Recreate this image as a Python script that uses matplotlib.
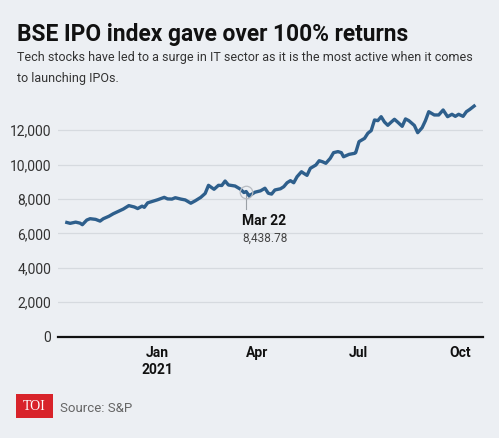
import matplotlib
matplotlib.use("Agg")
import matplotlib.pyplot as plt
import pandas as pd
from matplotlib.patches import Rectangle

# BSE IPO index
dates = [
    "2020-10-11", "2020-10-14", "2020-10-19", "2020-10-23", "2020-10-25", "2020-10-29",
    "2020-11-01", "2020-11-06", "2020-11-10", "2020-11-13", "2020-11-18", "2020-11-22",
    "2020-11-27", "2020-12-01", "2020-12-06", "2020-12-11", "2020-12-14", "2020-12-18",
    "2020-12-20", "2020-12-23", "2020-12-29", "2021-01-01", "2021-01-07", "2021-01-10",
    "2021-01-14", "2021-01-17", "2021-01-22", "2021-01-26", "2021-01-31", "2021-02-04",
    "2021-02-09", "2021-02-13", "2021-02-16", "2021-02-21", "2021-02-25", "2021-02-28",
    "2021-03-03", "2021-03-06", "2021-03-12", "2021-03-17", "2021-03-20", "2021-03-22",
    "2021-03-25", "2021-03-26", "2021-03-30", "2021-04-04", "2021-04-08", "2021-04-11",
    "2021-04-14", "2021-04-17", "2021-04-22", "2021-04-25", "2021-04-28", "2021-05-01",
    "2021-05-04", "2021-05-07", "2021-05-11", "2021-05-13", "2021-05-16", "2021-05-19",
    "2021-05-24", "2021-05-27", "2021-05-30", "2021-06-02", "2021-06-06", "2021-06-09",
    "2021-06-13", "2021-06-16", "2021-06-18", "2021-06-23", "2021-06-28", "2021-06-29",
    "2021-07-02", "2021-07-07", "2021-07-10", "2021-07-13", "2021-07-16", "2021-07-19",
    "2021-07-22", "2021-07-25", "2021-07-28", "2021-07-31", "2021-08-03", "2021-08-06",
    "2021-08-10", "2021-08-13", "2021-08-16", "2021-08-21", "2021-08-24", "2021-08-28",
    "2021-08-31", "2021-09-03", "2021-09-08", "2021-09-12", "2021-09-16", "2021-09-20",
    "2021-09-24", "2021-09-27", "2021-09-30", "2021-10-04", "2021-10-07", "2021-10-10",
    "2021-10-14",
]
values = [
    6640, 6590, 6660, 6600, 6510, 6780,
    6860, 6820, 6720, 6860, 7000, 7150,
    7300, 7420, 7620, 7540, 7450, 7590,
    7520, 7780, 7900, 7960, 8100, 8010,
    8000, 8080, 8000, 7950, 7760, 7900,
    8100, 8330, 8800, 8570, 8800, 8790,
    9050, 8820, 8760, 8570, 8380, 8438.78,
    8160, 8240, 8400, 8480, 8630, 8340,
    8290, 8530, 8600, 8720, 8950, 9070,
    8950, 9300, 9590, 9500, 9380, 9790,
    9980, 10230, 10170, 10080, 10370, 10700,
    10760, 10700, 10460, 10600, 10660, 10700,
    11340, 11530, 11830, 11980, 12600, 12560,
    12790, 12480, 12290, 12470, 12640, 12470,
    12230, 12660, 12560, 12280, 11860, 12150,
    12560, 13080, 12890, 12890, 13180, 12790,
    12930, 12810, 12930, 12810, 13080, 13210,
    13410,
]
y_ticks = [0, 2000, 4000, 6000, 8000, 10000, 12000]
x_ticks = ["2021-01-01", "2021-04-01", "2021-07-01", "2021-10-01"]
x_labels = ["Jan\n2021", "Apr", "Jul", "Oct"]
note_date = "2021-03-22"
note_value = 8438.78

BG = "#eceff3"
LINE = "#2e5f8c"
FONT = ["Roboto", "DejaVu Sans"]

dts = pd.to_datetime(dates)

fig = plt.figure(figsize=(4.99, 4.38), dpi=100, facecolor=BG)
ax = fig.add_axes([0.1162, 0.2313, 0.8517, 0.5498], facecolor=BG)

ax.plot(dts, values, color=LINE, lw=2.4, solid_joinstyle="round", zorder=3)

ax.set_ylim(0, 14000)
ax.set_xlim(pd.Timestamp("2020-10-03"), pd.Timestamp("2021-10-22"))
ax.set_yticks(y_ticks)
ax.set_yticklabels([f"{v:,}" for v in y_ticks], family=FONT, fontsize=10, color="#333333")
ax.set_xticks(pd.to_datetime(x_ticks))
ax.set_xticklabels(x_labels, family=FONT, fontsize=10, fontweight="bold", color="#111111")
ax.tick_params(axis="both", length=0)
ax.tick_params(axis="y", pad=5)
ax.tick_params(axis="x", pad=7)
ax.grid(axis="y", color="#d6dadf", lw=0.9)
ax.set_axisbelow(True)
for s in ["top", "right", "left"]:
    ax.spines[s].set_visible(False)
ax.spines["bottom"].set_color("#111111")
ax.spines["bottom"].set_linewidth(1.6)

# Mar 22 callout
nd = pd.Timestamp(note_date)
ax.plot([nd], [note_value], marker="o", ms=9, mfc="none", mec="#b8bcc2", mew=0.9, zorder=4)
ax.plot([nd, nd], [note_value - 230, 7450], color="#9aa0a6", lw=0.8, zorder=2)
ax.annotate("Mar 22", (nd, 7450), xytext=(-3, -4), textcoords="offset points",
            ha="left", va="top", family=FONT, fontsize=10, fontweight="bold", color="#111111")
ax.annotate(f"{note_value:,.2f}", (nd, 7450), xytext=(-3, -17), textcoords="offset points",
            ha="left", va="top", family=FONT, fontsize=8.5, color="#444444")

fig.text(0.034, 0.907, "BSE IPO index gave over 100% returns", family=FONT,
         fontsize=16.4, fontweight="bold", color="#111111", va="baseline")
fig.text(0.034, 0.813,
         "Tech stocks have led to a surge in IT sector as it is the most active when it comes\nto launching IPOs.",
         family=FONT, fontsize=9.0, color="#333333", va="baseline", linespacing=1.75)

# footer
fig.patches.append(Rectangle((16 / 499, 1 - 418 / 438), 37 / 499, 24 / 438,
                             transform=fig.transFigure, facecolor="#d8232a", edgecolor="none"))
fig.text(34.5 / 499, 1 - 406 / 438, "TOI", family="Liberation Serif", fontsize=10,
         color="white", ha="center", va="center")
fig.text(60 / 499, 1 - 408 / 438, "Source: S&P", family=FONT, fontsize=9.5,
         color="#666666", va="center")

fig.savefig("out.png", dpi=100, facecolor=BG)
